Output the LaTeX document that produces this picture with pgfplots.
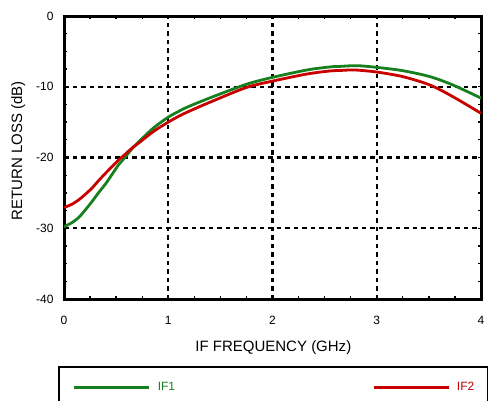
\documentclass[border=0pt]{standalone}
\usepackage{fontspec}
\setmainfont{Liberation Sans}
\usepackage{pgfplots}
\pgfplotsset{compat=1.18}
\definecolor{ifgreen}{RGB}{22,128,30}
\definecolor{ifred}{RGB}{200,0,0}
\begin{document}
\begin{tikzpicture}[x=1bp,y=1bp]
\begin{axis}[
  at={(0,0)}, anchor=south west,
  scale only axis, width=417bp, height=283bp,
  xmin=0, xmax=4, ymin=-40, ymax=0,
  xtick={0,1,2,3,4}, ytick={-40,-30,-20,-10,0},
  minor x tick num=3, minor y tick num=3,
  tick align=inside,
  major tick length=3bp, minor tick length=3bp,
  every tick/.style={black, line width=1.3bp},
  axis line style={line width=3bp, black},
  xmajorgrids, ymajorgrids,
  grid style={black, line width=2.2bp, dash pattern=on 4.5bp off 4bp},
  major grid style={black, line width=2.2bp, dash pattern=on 4.5bp off 4bp},
  tick label style={font=\fontsize{12bp}{14bp}\selectfont},
  /pgf/number format/assume math mode=true,
  xticklabel style={yshift=-13.7bp},
  yticklabel style={xshift=-7bp},
  xlabel={IF FREQUENCY (GHz)},
  ylabel={RETURN LOSS (dB)},
  label style={font=\fontsize{15bp}{18bp}\selectfont},
  xlabel style={at={(axis description cs:0.502,-0.170)}, anchor=center},
  ylabel style={at={(axis description cs:-0.110,0.524)}, anchor=center},
  legend columns=2,
  legend image code/.code={\draw[#1] (0bp,0bp) -- (75bp,0bp);},
  legend style={at={(axis description cs:-0.0144,-0.2367)}, anchor=north west,
    draw=black, line width=2bp, fill=white, inner xsep=14bp, inner ysep=15.5bp,
    nodes={inner sep=0pt, font=\fontsize{12bp}{14bp}\selectfont},
    cells={anchor=center},
    /tikz/column sep=7bp, /tikz/column 2/.style={column sep=197bp}},
]
\addplot[ifgreen, line width=2.8bp, smooth] coordinates {
(0,-29.8) (0.013,-29.7) (0.077,-29.2) (0.14,-28.5) (0.205,-27.4) (0.27,-26.2)
(0.33,-25.0) (0.40,-23.7) (0.46,-22.4) (0.52,-21.1) (0.59,-19.9) (0.65,-18.8)
(0.73,-17.6) (0.86,-15.8) (1.0,-14.3) (1.11,-13.4) (1.21,-12.7) (1.43,-11.4)
(1.75,-9.65) (2.0,-8.67) (2.33,-7.63) (2.55,-7.2) (2.65,-7.12) (2.81,-7.02)
(3.0,-7.26) (3.25,-7.73) (3.51,-8.57) (3.73,-9.75) (4.0,-11.6)};
\addlegendentry{\textcolor{ifgreen}{IF1}}
\addplot[ifred, line width=2.8bp, smooth] coordinates {
(0,-27.0) (0.013,-27.0) (0.077,-26.6) (0.14,-26.0) (0.205,-25.2) (0.27,-24.3)
(0.33,-23.3) (0.40,-22.2) (0.46,-21.3) (0.52,-20.4) (0.59,-19.5) (0.65,-18.7)
(0.73,-17.8) (0.86,-16.3) (1.0,-15.0) (1.11,-14.1) (1.21,-13.4) (1.43,-12.0)
(1.75,-10.1) (2.0,-9.2) (2.33,-8.2) (2.55,-7.77) (2.65,-7.7) (2.79,-7.63)
(3.0,-7.92) (3.25,-8.57) (3.51,-9.75) (3.73,-11.4) (4.0,-13.75)};
\addlegendentry{\textcolor{ifred}{IF2}}
\end{axis}
\pgfresetboundingbox
\useasboundingbox (-64,-101) rectangle (424,299);
\end{tikzpicture}
\end{document}
